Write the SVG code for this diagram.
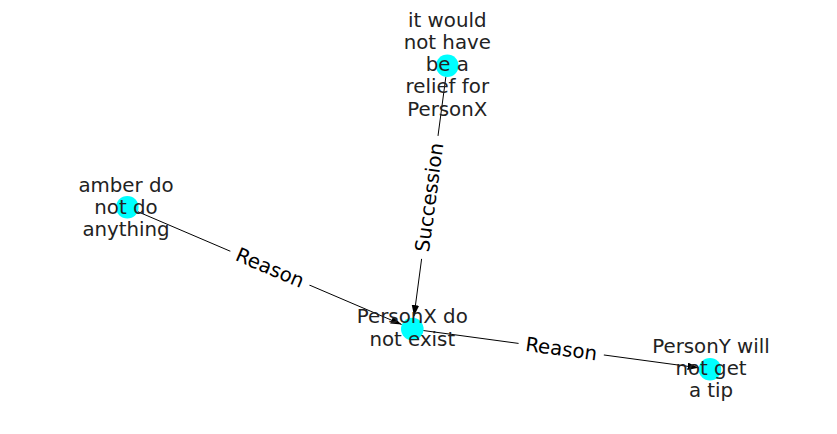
<svg xmlns="http://www.w3.org/2000/svg" width="837" height="434" viewBox="0 0 837 434">
<style>
.edge{stroke:#000;stroke-width:1;fill:none}
.node{fill:#00ffff}
.nl{font-family:"DejaVu Sans",sans-serif;font-size:19.8px;fill:#222;text-anchor:middle}
.el{font-family:"DejaVu Sans",sans-serif;font-size:19.8px;fill:#000;text-anchor:middle}
.box{fill:#fff}
</style>
<defs>
<marker id="arr" markerUnits="userSpaceOnUse" markerWidth="12" markerHeight="8" refX="11" refY="3.75" orient="auto">
<path d="M0,0 L11,3.75 L0,7.5 z" fill="#000"/>
</marker>
</defs>
<rect width="837" height="434" fill="#fff"/>
<g id="connectors">
<line class="edge" x1="445.9" y1="76.6" x2="414.0" y2="316.1" marker-end="url(#arr)"/>
<line class="edge" x1="137.6" y1="211.6" x2="401.7" y2="324.5" marker-end="url(#arr)"/>
<line class="edge" x1="423.2" y1="330.5" x2="698.6" y2="367.8" marker-end="url(#arr)"/>
<g transform="translate(429.8,197.4) rotate(-82.43)">
<rect class="box" x="-62" y="-16" width="124" height="32"/>
<text class="el" x="0" y="0" dy="0.32em">Succession</text>
</g>
<g transform="translate(269.9,268.2) rotate(23.14)">
<rect class="box" x="-43" y="-16" width="86" height="32"/>
<text class="el" x="0" y="0" dy="0.32em">Reason</text>
</g>
<g transform="translate(561.2,349.2) rotate(7.71)">
<rect class="box" x="-43" y="-16" width="86" height="32"/>
<text class="el" x="0" y="0" dy="0.32em">Reason</text>
</g>
</g>
<g id="node-relief">
<circle class="node" cx="447.3" cy="65.7" r="11.3"/>
<text class="nl" x="447.3" y="26.7">it would</text>
<text class="nl" x="447.3" y="48.9">not have</text>
<text class="nl" x="447.3" y="71.1">be a</text>
<text class="nl" x="447.3" y="93.3">relief for</text>
<text class="nl" x="447.3" y="115.5">PersonX</text>
</g>
<g id="node-amber">
<circle class="node" cx="127.3" cy="207.3" r="11.3"/>
<text class="nl" x="126" y="191.8">amber do</text>
<text class="nl" x="126" y="213.9">not do</text>
<text class="nl" x="126" y="236">anything</text>
</g>
<g id="node-personx">
<circle class="node" cx="412.3" cy="329" r="11.3"/>
<text class="nl" x="412.3" y="323.3">PersonX do</text>
<text class="nl" x="412.3" y="345.5">not exist</text>
</g>
<g id="node-persony">
<circle class="node" cx="710" cy="369.3" r="11.3"/>
<text class="nl" x="711" y="353.3">PersonY will</text>
<text class="nl" x="711" y="374.9">not get</text>
<text class="nl" x="711" y="396.5">a tip</text>
</g>
</svg>
